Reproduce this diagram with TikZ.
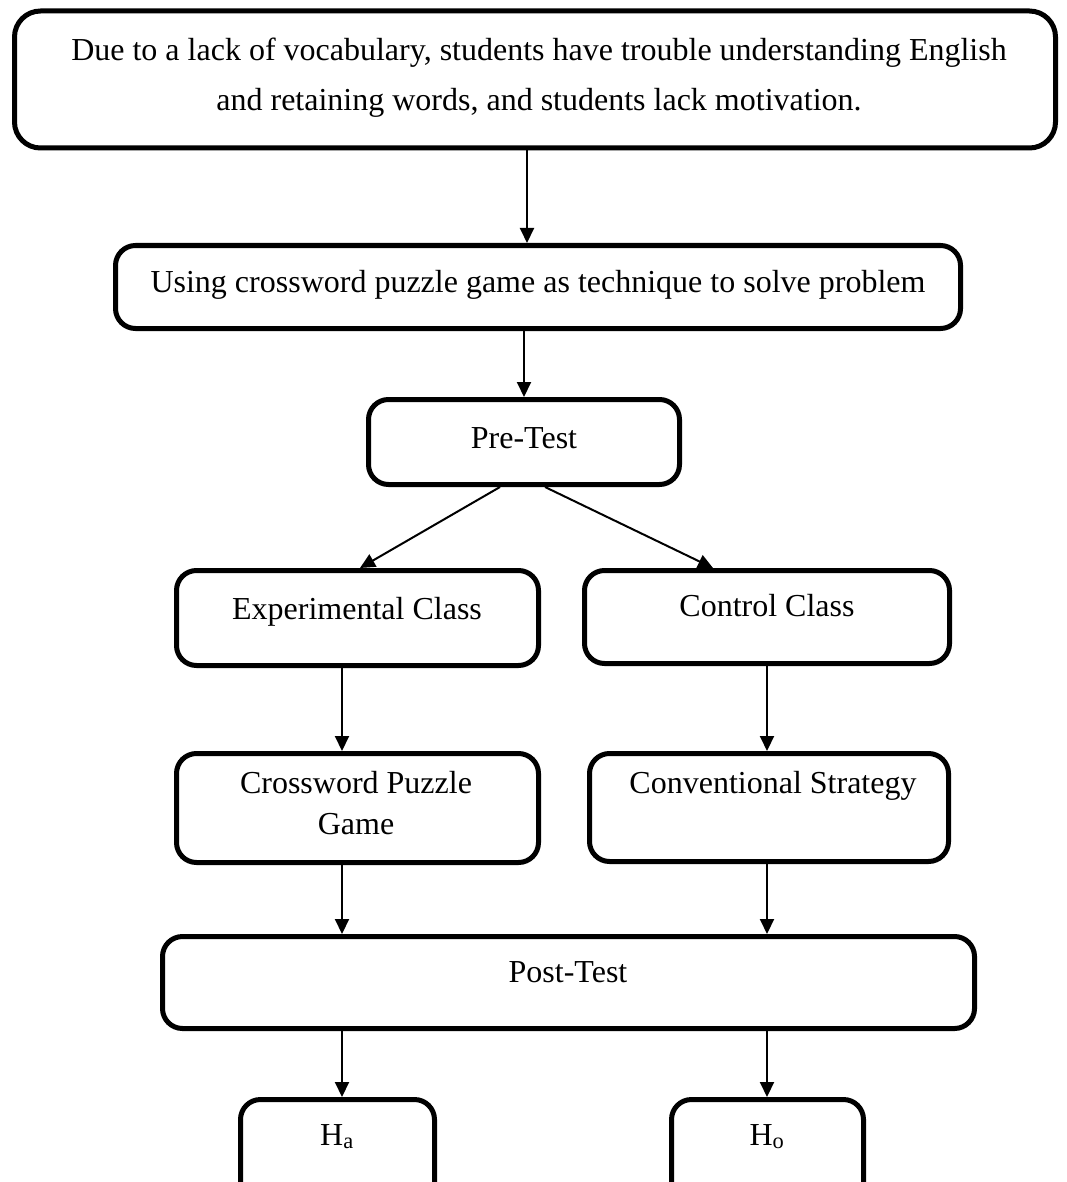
\documentclass[tikz,border=0pt]{standalone}
\usepackage{fontspec}
\setmainfont{Liberation Serif}
\usetikzlibrary{arrows.meta}
\begin{document}
\begin{tikzpicture}[x=1pt,y=-1pt,
  box/.style={draw=black, line width=5pt, rounded corners=20pt, inner sep=0pt, fill=white},
  txt/.style={anchor=base, inner sep=0pt, font=\fontsize{32}{51}\selectfont},
  arr/.style={line width=2pt, -{Triangle[length=15pt,width=14pt]}}]
\useasboundingbox[fill=white] (0,0) rectangle (1066,1182);
% boxes
\node[box, rounded corners=26pt, minimum width=1041pt, minimum height=137pt] (top) at (535,79.5) {};
\node[box, minimum width=845pt, minimum height=83pt] (use) at (538,287) {};
\node[box, minimum width=311pt, minimum height=85pt] (pre) at (524,442) {};
\node[box, minimum width=362pt, minimum height=95pt] (exp) at (357.5,618) {};
\node[box, minimum width=365pt, minimum height=93pt] (ctl) at (767,617) {};
\node[box, minimum width=362pt, minimum height=109pt] (cwg) at (357.5,808) {};
\node[box, minimum width=359pt, minimum height=108pt] (cvs) at (769,807.5) {};
\node[box, minimum width=812pt, minimum height=92pt] (post) at (568.5,982.5) {};
\node[box, minimum width=194pt, minimum height=103pt] (ha) at (337.5,1151) {};
\node[box, minimum width=192pt, minimum height=103pt] (ho) at (767.5,1151) {};
% texts
\node[txt] (t1a) at (539,61) {Due to a lack of vocabulary, students have trouble understanding English};
\node[txt] (t1b) at (539,111) {and retaining words, and students lack motivation.};
\node[txt] (t2) at (538,292) {Using crossword puzzle game as technique to solve problem};
\node[txt] (t3) at (524,448) {Pre-Test};
\node[txt] (t4) at (357,619) {Experimental Class};
\node[txt] (t5) at (767,616) {Control Class};
\node[txt] (t6a) at (356,793) {Crossword Puzzle};
\node[txt] (t6b) at (356,834) {Game};
\node[txt] (t7) at (773,793) {Conventional Strategy};
\node[txt] (t8) at (568,982) {Post-Test};
\node[txt] (t9) at (337,1145) {H\textsubscript{a}};
\node[txt] (t10) at (767,1145) {H\textsubscript{o}};
% x positions
\coordinate (xa) at (527,0);
\coordinate (xb) at (524,0);
\coordinate (xl) at (342,0);
\coordinate (xr) at (767,0);
\coordinate (p1) at (500,0);
\coordinate (p2) at (545,0);
\coordinate (q1) at (360,0);
\coordinate (q2) at (713,0);
% arrows
\draw[arr] (top.south -| xa) -- (use.north -| xa);
\draw[arr] (use.south -| xb) -- (pre.north -| xb);
\draw[arr] (pre.south -| p1) -- (exp.north -| q1);
\draw[arr] (pre.south -| p2) -- (ctl.north -| q2);
\draw[arr] (exp.south -| xl) -- (cwg.north -| xl);
\draw[arr] (ctl.south -| xr) -- (cvs.north -| xr);
\draw[arr] (cwg.south -| xl) -- (post.north -| xl);
\draw[arr] (cvs.south -| xr) -- (post.north -| xr);
\draw[arr] (post.south -| xl) -- (ha.north -| xl);
\draw[arr] (post.south -| xr) -- (ho.north -| xr);
\end{tikzpicture}
\end{document}
